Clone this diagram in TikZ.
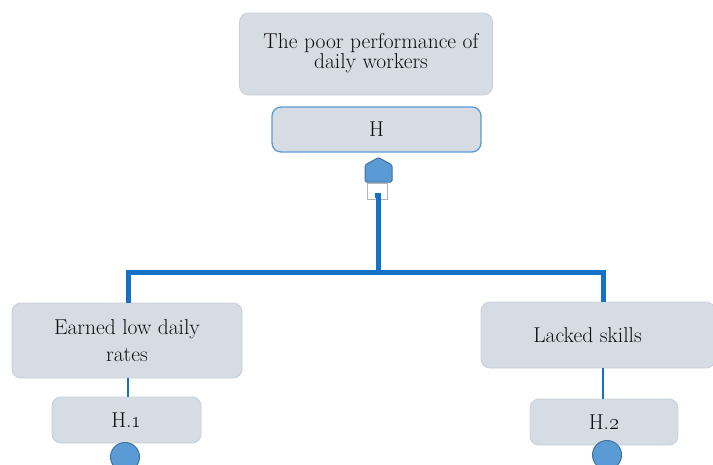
\RequirePackage{fix-cm}
\documentclass[tikz,border=0pt]{standalone}
\definecolor{boxfill}{HTML}{D6DCE4}
\definecolor{boxedge}{HTML}{C9CED6}
\definecolor{linkblue}{HTML}{1570C8}
\definecolor{shapeblue}{HTML}{5B9BD5}
\definecolor{shapeedge}{HTML}{41719C}
\tikzset{
  gbox/.style={draw=boxedge, line width=0.8pt, fill=boxfill, rounded corners=9pt, align=center, inner sep=0pt, text=black!95, font=\fontsize{21.5}{20}\selectfont},
  lbl/.style={align=center, inner sep=0pt, text=black!95, font=\fontsize{21.5}{19.5}\selectfont},
  hbox/.style={gbox, draw=shapeblue, line width=1.3pt},
  thickln/.style={draw=linkblue, line width=5pt},
  thinln/.style={draw=linkblue, line width=2pt},
  dotc/.style={circle, fill=shapeblue, draw=shapeedge, line width=1pt, minimum size=29pt, inner sep=0pt},
}
\begin{document}
\begin{tikzpicture}[x=1pt,y=-1pt]
\useasboundingbox (0,0) rectangle (713,464);
\clip (0,0) rectangle (713,464);
% top
\node[gbox, minimum width=253pt, minimum height=82pt] (top) at (366,54) {};
\node[lbl] (toptext) at (371,53) {The poor performance of\\daily workers};
\node[hbox, minimum width=209pt, minimum height=45pt] (H) at (376.5,129.5) {H};
% house shape
\draw[fill=shapeblue, draw=shapeedge, line width=1pt, rounded corners=1.5pt] (365,182) -- (365,165) -- (378.5,157.5) -- (392,165) -- (392,182) -- cycle;
\node[draw=gray!60, fill=white, line width=0.8pt, minimum width=20pt, minimum height=16pt, inner sep=0pt] (sq) at (377,191) {};
\fill[linkblue] (375,193) rectangle (381,198);
% connectors
\coordinate (jn) at (378,272);
\coordinate (jl) at (128,272);
\coordinate (jr) at (603,272);
% children
\node[gbox, minimum width=230pt, minimum height=75pt, font=\fontsize{21.5}{27}\selectfont] (L) at (127,340.5) {Earned low daily\\rates};
\node[gbox, minimum width=234pt, minimum height=66pt] (R) at (598,335) {};
\node[lbl] (Rtext) at (587.5,335) {Lacked skills};
\node[gbox, minimum width=149pt, minimum height=46pt] (H1) at (126.5,420) {H.\oldstylenums{1}};
\node[gbox, minimum width=148pt, minimum height=46pt] (H2) at (604,422) {H.\oldstylenums{2}};
\node[dotc] (c1) at (125,457) {};
\node[dotc] (c2) at (607,455) {};
% lines
\draw[thickln] (378,196) -- (jn);
\draw[thickln, line join=miter] (jl |- L.north) -- (jl) -- (jr) -- (jr |- R.north);
\draw[thinln] (jl |- L.south) -- (jl |- H1.north);
\draw[thinln] (jr |- R.south) -- (jr |- H2.north);
\end{tikzpicture}
\end{document}
